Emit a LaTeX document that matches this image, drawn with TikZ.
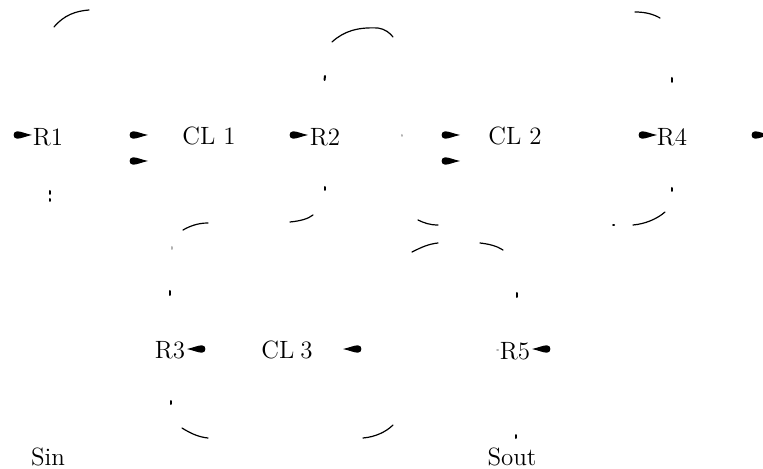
\documentclass[tikz,border=0pt]{standalone}
\begin{document}
\begin{tikzpicture}[x=0.5pt,y=-0.5pt,
  lbl/.style={font=\fontsize{12.5}{14}\selectfont, inner sep=0pt, anchor=base},
  frag/.style={line width=0.6pt, line cap=round},
  dotm/.style={line width=1pt, line cap=round},
  tipr/.pic={\fill (0,0) .. controls (-6,-1.2) and (-11,-3.7) .. (-15,-3.7) .. controls (-19.5,-3.7) and (-19.5,3.7) .. (-15,3.7) .. controls (-11,3.7) and (-6,1.2) .. (0,0) -- cycle;}]
\useasboundingbox (0,0) rectangle (763,469);
% labels
\node[lbl] (R1) at (48,146) {R1};
\node[lbl] (CL1) at (209,145) {CL\hspace{4pt}1};
\node[lbl] (R2) at (325,146) {R2};
\node[lbl] (CL2) at (515,145) {CL\hspace{4pt}2};
\node[lbl] (R4) at (672,146) {R4};
\node[lbl] (R3) at (170,358) {R3};
\node[lbl] (CL3) at (287,358) {CL\hspace{3pt}3};
\node[lbl] (R5) at (515,359) {R5};
\node[lbl] (Sin) at (48,465) {Sin};
\node[lbl] (Sout) at (512,465) {Sout};
% arrowheads
\pic at (32,135) {tipr};
\pic at (148,135) {tipr};
\pic at (148,161) {tipr};
\pic at (308,135) {tipr};
\pic at (460,135) {tipr};
\pic at (460,161) {tipr};
\pic at (657,135) {tipr};
\pic at (770,135) {tipr};
\pic[xscale=-1] at (187,349) {tipr};
\pic[xscale=-1] at (343,349) {tipr};
\pic[xscale=-1] at (532,349) {tipr};
% visible fragments of the outlines
\draw[frag] (54,27) .. controls (64,15) and (76,11) .. (89,10);
\draw[frag] (332,42) .. controls (344,31) and (358,27) .. (378,28) .. controls (385,29) and (390,33) .. (393,37);
\draw[frag] (290,222) .. controls (300,221) and (308,219) .. (313,215);
\draw[frag] (183,230) .. controls (190,226) and (198,223) .. (208,223);
\draw[frag] (418,220) .. controls (424,223) and (430,225) .. (438,225);
\draw[frag] (633,225) .. controls (645,224) and (657,219) .. (665,212);
\draw[frag] (635,12) .. controls (645,12) and (653,14) .. (660,18);
\draw[frag] (412,252) .. controls (420,248) and (428,244) .. (438,243);
\draw[frag] (480,243) .. controls (489,244) and (497,246) .. (503,250);
\draw[frag] (182,428) .. controls (190,433) and (198,437) .. (208,438);
\draw[frag] (363,438) .. controls (375,437) and (386,432) .. (393,425);
% short marks
\draw[dotm] (325,76) -- (324.5,80);
\draw[dotm] (50,191) -- (50,194);
\draw[dotm] (50,199) -- (50,201);
\draw[dotm] (325,187) -- (325,190);
\draw[dotm] (613,225) -- (614,225);
\draw[dotm] (672,78) -- (672,82);
\draw[dotm] (672,188) -- (672,191);
\draw[dotm] (517,293) -- (517,297);
\draw[dotm] (516,435) -- (516,438);
\draw[dotm] (170,291) -- (170,295);
\draw[dotm] (171,401) -- (171,404);
\draw[dotm, gray!60] (172,247) -- (172,249);
\draw[dotm, gray!60] (402,135) -- (402,136);
\draw[dotm, gray!60] (497,350) -- (498,350);
\end{tikzpicture}
\end{document}
